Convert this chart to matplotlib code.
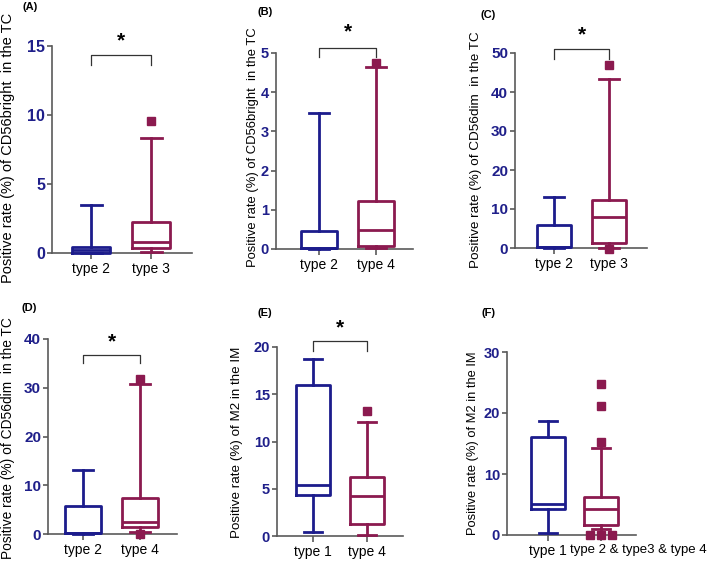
import matplotlib
matplotlib.use("Agg")
import matplotlib.pyplot as plt

plt.rcParams['font.family'] = ['Liberation Sans', 'DejaVu Sans']

BLUE = '#1c1c8c'
RED = '#8b1a4f'
TICKCOL = '#1f1f8a'
AXCOL = '#5a5a5a'

# (A) CD56bright in the TC, type 2 vs type 3
a_names = ['type 2', 'type 3']
a_low = [0.0, 0.07]
a_q1 = [0.02, 0.35]
a_med = [0.2, 0.8]
a_q3 = [0.43, 2.22]
a_high = [3.5, 8.3]
a_out = [[], [9.6]]

# (B) CD56bright in the TC, type 2 vs type 4
b_names = ['type 2', 'type 4']
b_low = [0.0, 0.02]
b_q1 = [0.03, 0.08]
b_med = [0.03, 0.48]
b_q3 = [0.47, 1.23]
b_high = [3.48, 4.65]
b_out = [[], [4.75]]

# (C) CD56dim in the TC, type 2 vs type 3
c_names = ['type 2', 'type 3']
c_low = [0.0, 0.1]
c_q1 = [0.2, 1.2]
c_med = [0.2, 7.9]
c_q3 = [5.8, 12.4]
c_high = [13.2, 43.3]
c_out = [[], [47.0, -0.2]]

# (D) CD56dim in the TC, type 2 vs type 4
d_names = ['type 2', 'type 4']
d_low = [0.0, 0.4]
d_q1 = [0.3, 1.4]
d_med = [0.3, 2.4]
d_q3 = [5.8, 7.4]
d_high = [13.2, 30.7]
d_out = [[], [31.8, 0.0]]

# (E) M2 in the IM, type 1 vs type 4
e_names = ['type 1', 'type 4']
e_low = [0.4, 0.15]
e_q1 = [4.3, 1.3]
e_med = [5.4, 4.2]
e_q3 = [16.0, 6.2]
e_high = [18.7, 12.1]
e_out = [[], [13.2]]

# (F) M2 in the IM, type 1 vs the rest
f_names = ['type 1', 'type 2 & type3 & type 4']
f_low = [0.3, 1.0]
f_q1 = [4.3, 1.7]
f_med = [5.1, 4.2]
f_q3 = [16.0, 6.3]
f_high = [18.7, 14.3]
f_out = [[], [24.7, 21.1, 15.2]]
f_zero_out = [0.0, 0.0, 0.0]   # spread sideways in the original


def stats(names, low, q1, med, q3, high, out):
    res = []
    for i in range(len(names)):
        res.append(dict(label=names[i], whislo=low[i], q1=q1[i], med=med[i],
                        q3=q3[i], whishi=high[i], fliers=out[i]))
    return res


fig = plt.figure(figsize=(7.09, 5.62), dpi=100)
W, H = 709.0, 562.0


def make_axes(left, right, top, bottom):
    return fig.add_axes([left / W, 1 - bottom / H, (right - left) / W, (bottom - top) / H])


def draw_panel(ax, st, xlim, ylim, yticks, ticksize=10, xlabels=True):
    cols = [BLUE, RED]
    for i, s in enumerate(st):
        c = cols[i]
        ax.bxp([s], positions=[i + 1], widths=0.63, capwidths=0.35,
               boxprops=dict(color=c, lw=2.0),
               medianprops=dict(color=c, lw=2.0),
               whiskerprops=dict(color=c, lw=2.0),
               capprops=dict(color=c, lw=2.0),
               flierprops=dict(marker='s', markersize=5.5, markerfacecolor=c,
                               markeredgecolor=c, linestyle='none'),
               manage_ticks=False)
    for a in ax.get_children():
        try:
            a.set_clip_on(False)
        except Exception:
            pass
    ax.set_xlim(*xlim)
    ax.set_ylim(*ylim)
    ax.set_yticks(yticks)
    ax.set_yticklabels([str(t) for t in yticks])
    for t in ax.yaxis.get_major_ticks():
        t.label1.set_fontweight('bold')
        t.label1.set_color(TICKCOL)
        t.label1.set_fontsize(ticksize)
    ax.set_xticks([1, 2])
    if xlabels:
        ax.set_xticklabels([s['label'] for s in st], fontsize=10, color='black')
    else:
        ax.set_xticklabels([st[0]['label'], ''], fontsize=10, color='black')
    ax.spines['top'].set_visible(False)
    ax.spines['right'].set_visible(False)
    for sp in ['left', 'bottom']:
        ax.spines[sp].set_color(AXCOL)
        ax.spines[sp].set_linewidth(1.2)
        ax.spines[sp].set_zorder(0)
    ax.tick_params(axis='y', color=AXCOL, width=1.2, length=3.5, pad=1.5)
    ax.tick_params(axis='x', color=AXCOL, width=1.2, length=4.3, pad=2.5)
    ax.patch.set_alpha(0)


def bracket(ax, ytop, ydrop, ystar):
    ax.plot([1, 1, 2, 2], [ydrop, ytop, ytop, ydrop], color='#333333', lw=0.9, clip_on=False)
    ax.text(1.5, ystar, '*', ha='center', va='center', fontsize=15, fontweight='bold',
            clip_on=False)


def ylabel(x, y, text, size):
    fig.text(x / W, 1 - y / H, text, rotation=90, ha='center', va='center', fontsize=size)


def letter(x, y, text):
    fig.text(x / W, 1 - y / H, text, ha='center', va='center', fontsize=8, fontweight='bold')


# (A)
ax = make_axes(52, 192, 46, 253)
draw_panel(ax, stats(a_names, a_low, a_q1, a_med, a_q3, a_high, a_out),
           (0.35, 2.68), (0, 15), [0, 5, 10, 15], ticksize=11.5)
bracket(ax, 14.35, 13.6, 15.4)
ylabel(8, 148, 'Positive rate (%) of CD56bright  in the TC', 10.5)
letter(30, 7, '(A)')

# (B)
ax = make_axes(276, 413, 53, 249)
draw_panel(ax, stats(b_names, b_low, b_q1, b_med, b_q3, b_high, b_out),
           (0.245, 2.65), (0, 5), [0, 1, 2, 3, 4, 5], ticksize=10.5)
bracket(ax, 5.13, 4.9, 5.55)
ylabel(253, 147, 'Positive rate (%) of CD56bright  in the TC', 9.4)
letter(265, 12, '(B)')

# (C)
ax = make_axes(515, 647, 53, 248)
draw_panel(ax, stats(c_names, c_low, c_q1, c_med, c_q3, c_high, c_out),
           (0.29, 2.69), (0, 50), [0, 10, 20, 30, 40, 50], ticksize=11)
bracket(ax, 51, 48.5, 54.6)
ylabel(476, 150, 'Positive rate (%) of CD56dim  in the TC', 9.7)
letter(488, 15, '(C)')

# (D)
ax = make_axes(48, 177, 339, 534)
draw_panel(ax, stats(d_names, d_low, d_q1, d_med, d_q3, d_high, d_out),
           (0.386, 2.65), (0, 40), [0, 10, 20, 30, 40], ticksize=11)
bracket(ax, 36.7, 35.1, 39.4)
ylabel(8, 438, 'Positive rate (%) of CD56dim  in the TC', 9.9)
letter(29, 308, '(D)')

# (E)
ax = make_axes(277, 403, 347, 536)
draw_panel(ax, stats(e_names, e_low, e_q1, e_med, e_q3, e_high, e_out),
           (0.333, 2.667), (0, 20), [0, 5, 10, 15, 20], ticksize=10.5)
bracket(ax, 20.6, 19.6, 22.0)
ylabel(237, 442, 'Positive rate (%) of M2 in the IM', 9.6)
letter(265, 313, '(E)')

# (F)
ax = make_axes(507, 636, 352, 535)
draw_panel(ax, stats(f_names, f_low, f_q1, f_med, f_q3, f_high, f_out),
           (0.226, 2.66), (0, 30), [0, 10, 20, 30], ticksize=10.5, xlabels=False)
ax.plot([1.79, 2.0, 2.21], f_zero_out, 's', color=RED, markersize=5.5, clip_on=False)
# long category name sits off-centre, to the right of its tick
ax.annotate(f_names[1], xy=(2, 0), xycoords=('data', 'axes fraction'),
            xytext=(37, -9), textcoords='offset pixels', ha='center', va='top',
            fontsize=9.5, color='black')
ylabel(473, 443, 'Positive rate (%) of M2 in the IM', 9.3)
letter(488, 313, '(F)')

fig.savefig('out.png', dpi=100)
